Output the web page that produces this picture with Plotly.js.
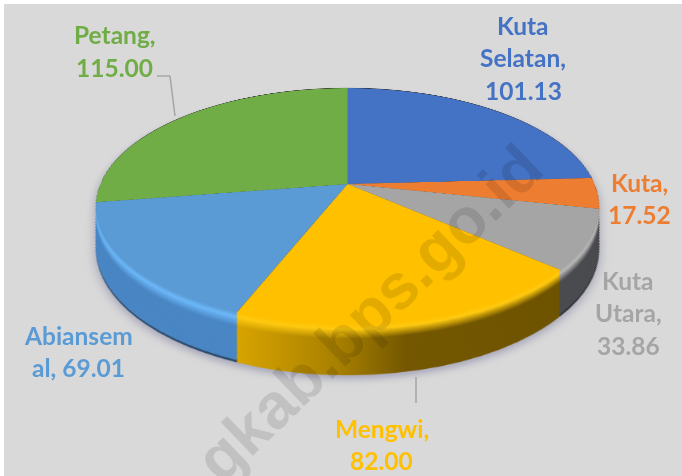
<!DOCTYPE html>
<html>
<head>
<meta charset="utf-8">
<script src="https://cdn.plot.ly/plotly-3.0.1.min.js"></script>
<style>
html,body{margin:0;padding:0;width:682px;height:476px;overflow:hidden;background:#fff}
#bg{position:absolute;left:4px;top:4px;width:678px;height:472px;background:#d9d9d9}
#pie{position:absolute;left:0;top:0;width:520px;height:600px;transform-origin:0 0;filter:drop-shadow(0 5px 4px rgba(150,150,175,.75))}
#labels{position:absolute;left:0;top:0;width:682px;height:476px}
</style>
</head>
<body>
<div id="bg"></div>
<div id="pie"></div>
<div id="labels"></div>
<script>
// Data
var categories = ['Kuta Selatan', 'Kuta', 'Kuta Utara', 'Mengwi', 'Abiansemal', 'Petang'];
var values = [101.13, 17.52, 33.86, 82.00, 69.01, 115.00];
var labelBreaks = [['Kuta', 'Selatan,'], ['Kuta,'], ['Kuta', 'Utara,'], ['Mengwi,'], ['Abiansem', 'al,'], ['Petang,']];

// Styles
var topColors = ['#4472c4', '#ed7d31', '#a5a5a5', '#ffc000', '#5b9bd5', '#70ad47'];
var hiColors = ['#4472c4', '#ed7d31', '#b8b8b8', '#ffca10', '#6cb8f8', '#70ad47'];
var wallColors = ['#2c4a80', '#9a5120', '#4a4b4f', '#7a5c00', '#4a86c4', '#4a7530'];
var textColors = ['#4472c4', '#ed7d31', '#a5a5a5', '#ffc000', '#5b9bd5', '#70ad47'];
var yellowStops = [[0, '#d8a400'], [0.3, '#a88000'], [0.5, '#745700'], [1, '#6e5300']];
var labelPos = [[523, 25], [639, 182], [628, 280], [382, 428], [78, 335], [115, 35]];
var LINE = 32.5, FONT = 24.5;

function hex(c) { return [1, 3, 5].map(function (i) { return parseInt(c.substr(i, 2), 16); }); }
function mix(a, b, t) {
  var x = hex(a), y = hex(b);
  return '#' + x.map(function (v, i) {
    return ('0' + Math.round(v + (y[i] - v) * t).toString(16)).slice(-2);
  }).join('');
}
function shade(top, hi, wall, t) {
  if (t < 0.10) return mix(top, hi, t / 0.10);
  if (t < 0.30) return mix(hi, wall, (t - 0.10) / 0.20);
  return wall;
}

// Geometry of the tilted pie
var W = 520, H = 600, cx = 260, cy = 260, R = 250;
var X0 = 347.5, Y0 = 184;
var A = 247 / R, B = 114 / R, K = 0.19 / R;
var w0 = 1 + K * cy;
var pieDiv = document.getElementById('pie');
pieDiv.style.transform = 'matrix3d(' + [
  A, 0, 0, 0,
  -K * X0, B - K * Y0, 0, -K,
  0, 0, 1, 0,
  -A * cx + X0 * w0, -B * cy + Y0 * w0, 0, w0
].join(',') + ')';

function pieTrace(d, r, colors) {
  return {
    type: 'pie', labels: categories, values: values, sort: false, direction: 'clockwise', rotation: 0,
    textinfo: 'none', hoverinfo: 'skip', showlegend: false,
    marker: { colors: colors, line: { width: 0 } },
    domain: { x: [(cx - r) / W, (cx + r) / W], y: [1 - (cy + d + r) / H, 1 - (cy + d - r) / H] }
  };
}

var N = 48, DEPTH = 84, traces = [], layerT = [];
for (var i = N; i >= 1; i--) {
  var t = i / N, d = DEPTH * t, r = R * (1 - 0.19 * d / R);
  var cols = topColors.map(function (c, j) {
    var col = shade(c, hiColors[j], wallColors[j], t);
    return i >= N - 1 ? mix(col, '#111111', 0.5) : col;
  });
  traces.push(pieTrace(d, r, cols));
  layerT.push(t);
}
traces.push(pieTrace(-1.2, R, categories.map(function () { return '#222222'; })));
layerT.push(-1);
traces.push(pieTrace(0, R, topColors));
layerT.push(-1);

var cfg = { staticPlot: true, displayModeBar: false };
Plotly.newPlot(pieDiv, traces, {
  width: W, height: H, margin: { l: 0, r: 0, t: 0, b: 0 },
  paper_bgcolor: 'rgba(0,0,0,0)', plot_bgcolor: 'rgba(0,0,0,0)', showlegend: false
}, cfg).then(function () {
  // angular shading along the front wall of the Mengwi slice
  var svg = pieDiv.querySelector('svg.main-svg');
  var NS = 'http://www.w3.org/2000/svg';
  var defs = document.createElementNS(NS, 'defs');
  svg.insertBefore(defs, svg.firstChild);
  var groups = pieDiv.querySelectorAll('.pielayer .trace');
  groups.forEach(function (g, idx) {
    var t = layerT[idx];
    if (t < 0) return;
    var id = 'yw' + idx;
    var lg = document.createElementNS(NS, 'linearGradient');
    lg.setAttribute('id', id);
    yellowStops.forEach(function (s) {
      var st = document.createElementNS(NS, 'stop');
      st.setAttribute('offset', s[0]);
      st.setAttribute('stop-color', shade(topColors[3], hiColors[3], s[1], t));
      lg.appendChild(st);
    });
    defs.appendChild(lg);
    var paths = g.querySelectorAll('.slice path.surface');
    if (paths[3]) paths[3].style.fill = 'url(#' + id + ')';
  });
});

// Labels, leader lines, watermark
var PW = 682, PH = 476;
var anns = [];
categories.forEach(function (c, i) {
  var lines = labelBreaks[i].slice();
  var last = lines[lines.length - 1];
  var val = values[i].toFixed(2);
  if (last === 'al,') lines[lines.length - 1] = 'al, ' + val; else lines.push(val);
  lines.forEach(function (txt, k) {
    anns.push({
      text: txt, showarrow: false, xref: 'paper', yref: 'paper', xanchor: 'center', yanchor: 'middle',
      x: labelPos[i][0] / PW, y: 1 - (labelPos[i][1] + k * LINE) / PH,
      font: { family: 'Lato, Carlito, sans-serif', size: FONT, color: textColors[i], weight: 'bold' }
    });
  });
});
anns.push({
  text: 'gkab.bps.go.id', showarrow: false, xref: 'paper', yref: 'paper', xanchor: 'center', yanchor: 'middle',
  x: 369 / PW, y: 1 - 313 / PH, textangle: -44,
  font: { family: 'Liberation Sans, Arial, sans-serif', size: 64, color: 'rgba(0,0,0,0.11)', weight: 'bold' }
});
function seg(x0, y0, x1, y1) {
  return { type: 'line', xref: 'paper', yref: 'paper', x0: x0 / PW, y0: 1 - y0 / PH, x1: x1 / PW, y1: 1 - y1 / PH,
    line: { color: '#a6a6a6', width: 1.5 } };
}
Plotly.newPlot('labels', [], {
  width: PW, height: PH, margin: { l: 0, r: 0, t: 0, b: 0 },
  paper_bgcolor: 'rgba(0,0,0,0)', plot_bgcolor: 'rgba(0,0,0,0)',
  xaxis: { visible: false }, yaxis: { visible: false },
  annotations: anns,
  shapes: [seg(157, 76, 170, 76), seg(170, 76, 175, 116), seg(416, 377, 416, 403)]
}, cfg);
</script>
</body>
</html>
